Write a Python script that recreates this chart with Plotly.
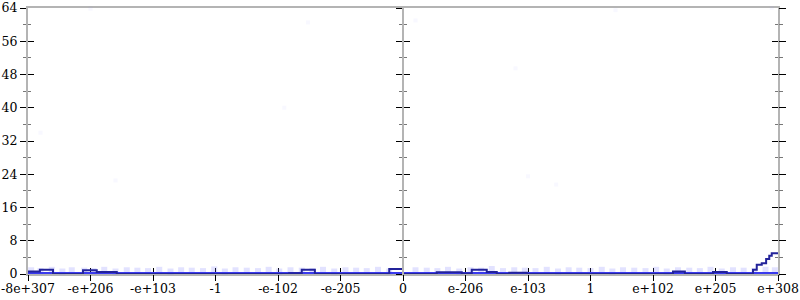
import plotly.graph_objects as go

# x positions are in tick-index units: -6 (left edge) ... 6 (right edge)
tick_pos = [-6, -5, -4, -3, -2, -1, 0, 1, 2, 3, 4, 5, 6]
tick_text = ["-8e+307", "-e+206", "-e+103", "-1", "-e-102", "-e-205", "0",
             "e-206", "e-103", "1", "e+102", "e+205", "e+308"]

# step line (histogram-like outline)
step_x = [-6.0, -5.81, -5.6, -5.12, -4.9, -4.58, -1.82, -1.62, -1.41,
          -0.22, 0.0, 0.54, 0.94, 1.10, 1.34, 1.50, 1.70, 1.98,
          4.32, 4.51, 4.96, 5.18, 5.60, 5.66, 5.74, 5.81, 5.86, 5.90, 6.0]
step_y = [0.6, 1.0, 0.0, 0.9, 0.5, 0.0, 0.2, 1.0, 0.0,
          1.2, 0.0, 0.4, 0.1, 1.0, 0.5, 0.0, 0.3, 0.0,
          0.6, 0.0, 0.5, 0.0, 1.0, 2.2, 2.6, 3.6, 4.4, 5.0, 5.0]

# baseline series (zero count across the whole range)
base_x = [-6.0, 6.0]
base_y = [0.0, 0.0]

# faint scattered sample points near the baseline
pt_x = [-5.95, -5.8, -5.62, -5.45, -5.3, -5.1, -4.95, -4.78, -4.6, -4.42, -4.25, -4.08,
        -3.9, -3.72, -3.55, -3.38, -3.2, -3.02, -2.85, -2.68, -2.5, -2.32, -2.15, -1.98,
        -1.8, -1.62, -1.45, -1.28, -1.1, -0.92, -0.75, -0.58, -0.4, -0.22,
        0.2, 0.38, 0.55, 0.72, 0.9, 1.08, 1.25, 1.42, 1.6, 1.78, 1.95, 2.12, 2.3,
        2.48, 2.65, 2.82, 3.0, 3.18, 3.35, 3.52, 3.7, 3.88, 4.05, 4.22, 4.4, 4.58,
        4.75, 4.92, 5.1, 5.28, 5.45, 5.62, 5.8, 5.95]
pt_y = [0.9, 0.7, 1.0, 0.6, 0.9, 0.8, 0.7, 1.0, 0.6, 0.9, 0.8, 0.7,
        1.0, 0.6, 0.9, 0.8, 0.7, 1.1, 0.6, 0.9, 0.8, 0.7, 1.0, 0.6,
        0.9, 0.8, 0.7, 1.0, 0.6, 0.9, 0.8, 0.7, 1.0, 0.6,
        0.9, 0.8, 0.7, 1.0, 0.6, 0.9, 0.8, 1.2, 0.7, 0.9, 0.8, 0.7, 1.0,
        0.6, 0.9, 0.8, 0.7, 1.0, 0.6, 0.9, 0.8, 0.7, 1.0, 0.6, 0.9, 0.8,
        0.7, 1.0, 0.6, 0.9, 0.8, 0.7, 1.0, 0.9]

# very faint outlying points
far_x = [-4.6, -1.9, -1.52, 2.0, 1.8, 2.45, 3.4, -5.8, 5.9, -5.0, 0.2]
far_y = [22.5, 40.0, 60.5, 23.5, 49.5, 21.5, 63.5, 34.0, 64.0, 63.8, 61.0]

GREY = "#b4b4b4"
FONT = dict(family="DejaVu Serif", size=12.5, color="#000")

fig = go.Figure()
fig.add_trace(go.Scatter(x=far_x, y=far_y, mode="markers",
                         marker=dict(size=4, symbol="square", color="rgba(150,150,255,0.07)", line=dict(width=0)),
                         hoverinfo="skip", showlegend=False, cliponaxis=False))
fig.add_trace(go.Scatter(x=pt_x, y=pt_y, mode="markers",
                         marker=dict(size=6, symbol="square", color="rgba(110,110,255,0.2)", line=dict(width=0)),
                         hoverinfo="skip", showlegend=False, cliponaxis=False))
fig.add_trace(go.Scatter(x=base_x, y=base_y, mode="lines",
                         line=dict(color="#3a3aee", width=4),
                         hoverinfo="skip", showlegend=False, cliponaxis=False))
fig.add_trace(go.Scatter(x=step_x, y=step_y, mode="lines", line_shape="hv",
                         line=dict(color="#23239a", width=2),
                         hoverinfo="skip", showlegend=False, cliponaxis=False))
# empty traces to attach the overlay axes
for ya in ["y2", "y3", "y4", "y5"]:
    fig.add_trace(go.Scatter(x=[None], y=[None], yaxis=ya, xaxis="x", showlegend=False))
fig.add_trace(go.Scatter(x=[None], y=[None], xaxis="x2", yaxis="y", showlegend=False))

yticks = dict(range=[0, 64], dtick=8, tick0=0, tickcolor="#000", tickwidth=1,
              showgrid=False, zeroline=False, automargin=False)
minor_out = dict(ticks="outside", dtick=4, tick0=0, ticklen=3, tickcolor="#777", showgrid=False)
minor_in = dict(ticks="inside", dtick=4, tick0=0, ticklen=3, tickcolor="#777", showgrid=False)

fig.update_layout(
    width=800, height=300,
    margin=dict(l=28, r=22, t=8, b=26, autoexpand=False),
    paper_bgcolor="white", plot_bgcolor="white",
    font=FONT,
    showlegend=False,
    xaxis=dict(range=[-6, 6], tickvals=tick_pos, ticktext=tick_text,
               ticks="inside", ticklen=6, tickcolor="#000", tickwidth=1,
               showline=True, linecolor=GREY, linewidth=2, mirror=True,
               showgrid=False, zeroline=False, tickfont=FONT, automargin=False,
               layer="below traces", ticklabeloverflow="allow", ticklabelstandoff=2),
    xaxis2=dict(range=[-6, 6], overlaying="x", tickvals=tick_pos,
                ticks="outside", ticklen=6, tickcolor="#000", tickwidth=1,
                showticklabels=False, showgrid=False, zeroline=False, showline=False,
                automargin=False),
    yaxis=dict(**yticks, ticks="outside", ticklen=6, showline=True, linecolor=GREY,
               linewidth=2, mirror="ticks", minor=minor_out, tickfont=FONT,
               ticklabeloverflow="allow"),
    yaxis2=dict(**yticks, overlaying="y", ticks="inside", ticklen=6, mirror="ticks",
                showticklabels=False, showline=False, minor=minor_in),
    yaxis3=dict(**yticks, overlaying="y", anchor="free", position=0.5, ticks="outside",
                ticklen=6, showticklabels=False, showline=True, linecolor=GREY,
                linewidth=2, minor=minor_out),
    yaxis4=dict(**yticks, overlaying="y", anchor="free", position=0.5, ticks="inside",
                ticklen=6, showticklabels=False, showline=False, minor=minor_in),
    yaxis5=dict(**yticks, overlaying="y", side="right", ticks="outside", ticklen=6,
                showticklabels=False, showline=False, minor=minor_out),
)

fig.write_html("out.html")
